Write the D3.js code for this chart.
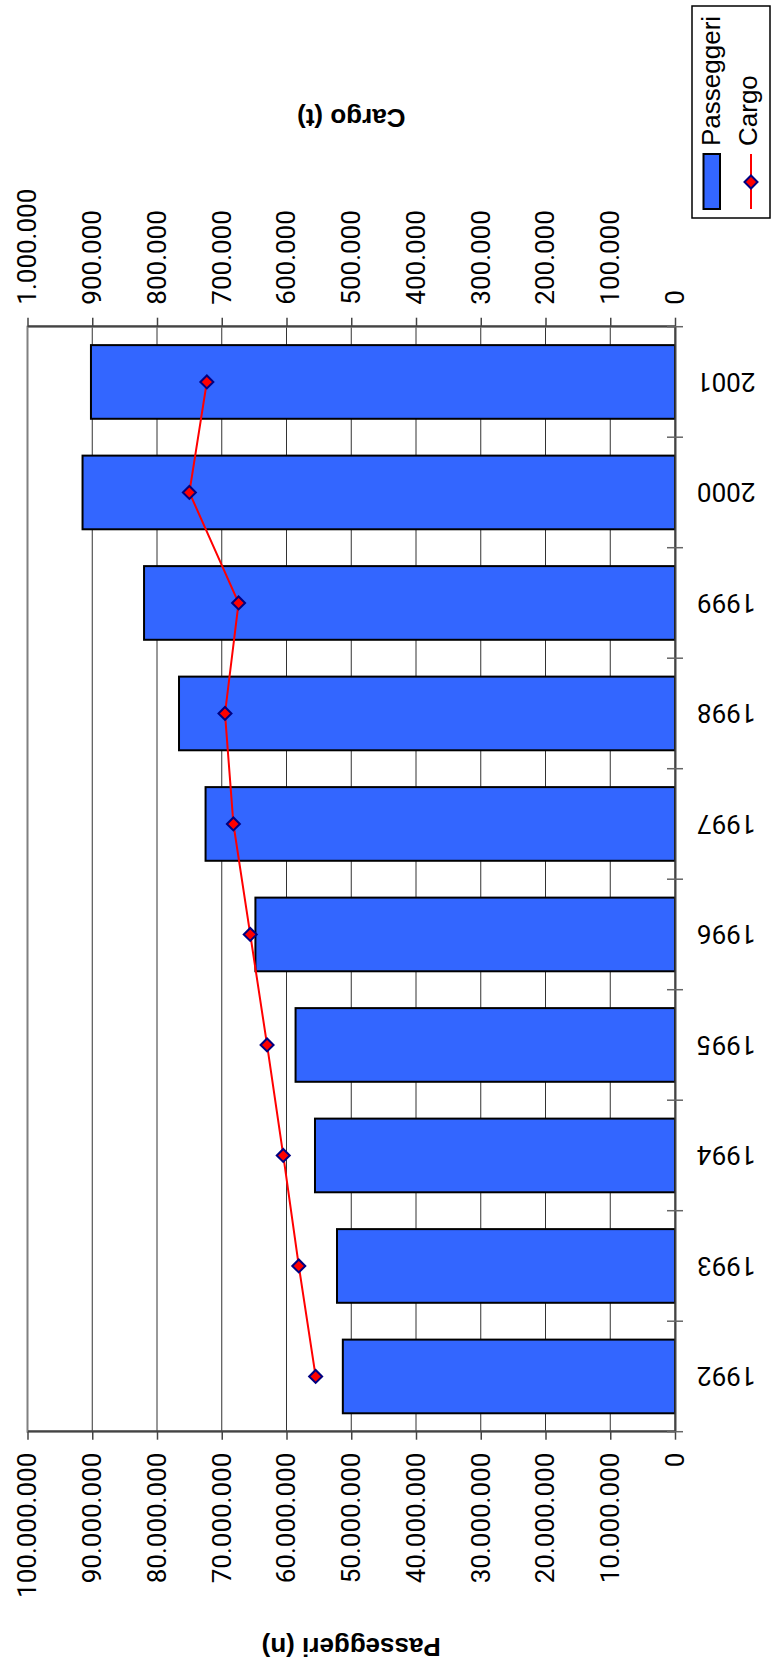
<!DOCTYPE html>
<html>
<head>
<meta charset="utf-8">
<script src="https://cdn.jsdelivr.net/npm/d3@7"></script>
<style>
    body { margin: 0; background: #fff; }
    svg { display: block; font-family: "Liberation Sans", Arial, sans-serif; }
    .axis text { font-family: Roboto, "Liberation Sans", Arial, sans-serif; }
</style>
</head>
<body>
<div id="chart"></div>
<script>
// data
const years = ["1992", "1993", "1994", "1995", "1996", "1997", "1998", "1999", "2000", "2001"];
const passeggeri = [51300000, 52200000, 55600000, 58600000, 64800000, 72500000, 76600000, 82000000, 91500000, 90200000];
const cargo = [555000, 581000, 605000, 630000, 656000, 682000, 695000, 674000, 750000, 723000];
const passeggeriTicks = [0, 10000000, 20000000, 30000000, 40000000, 50000000, 60000000, 70000000, 80000000, 90000000, 100000000];
const cargoTicks = [0, 100000, 200000, 300000, 400000, 500000, 600000, 700000, 800000, 900000, 1000000];

class RotatedComboChart {

    constructor(_parentElement) {
        this.parentElement = _parentElement;
        this.initVis();
    }

    initVis() {
        let vis = this;

        // the chart is drawn as a normal column chart, then turned 90deg counter-clockwise
        vis.pageWidth = 771;
        vis.pageHeight = 1668;
        vis.margin = { top: 27.5, right: 326.7, bottom: 96, left: 236.3 };
        vis.width = vis.pageHeight - vis.margin.left - vis.margin.right;
        vis.height = vis.pageWidth - vis.margin.top - vis.margin.bottom;

        vis.svgRoot = d3.select("#" + vis.parentElement).append("svg")
            .attr("width", vis.pageWidth)
            .attr("height", vis.pageHeight);

        vis.rot = vis.svgRoot.append("g")
            .attr("transform", "translate(0," + vis.pageHeight + ") rotate(-90)");

        vis.svg = vis.rot.append("g")
            .attr("transform", "translate(" + vis.margin.left + "," + vis.margin.top + ")");

        vis.fmt = d3.formatLocale({ decimal: ",", thousands: ".", grouping: [3], currency: ["", "€"] }).format(",");

        vis.x = d3.scaleBand()
            .domain(years)
            .range([0, vis.width])
            .paddingInner(1 / 3)
            .paddingOuter(1 / 6);

        vis.y = d3.scaleLinear()
            .domain([0, 100000000])
            .range([vis.height, 0]);

        vis.y2 = d3.scaleLinear()
            .domain([0, 1000000])
            .range([vis.height, 0]);

        vis.drawVis();
    }

    drawVis() {
        let vis = this;

        // gridlines
        vis.svg.append("g")
            .selectAll("line")
            .data(passeggeriTicks.slice(1, -1))
            .enter().append("line")
            .attr("x1", 0)
            .attr("x2", vis.width)
            .attr("y1", d => vis.y(d))
            .attr("y2", d => vis.y(d))
            .attr("stroke", "#333")
            .attr("stroke-width", 1);

        // plot border
        vis.svg.append("rect")
            .attr("width", vis.width)
            .attr("height", vis.height)
            .attr("fill", "none")
            .attr("stroke", "#808080")
            .attr("stroke-width", 2);

        // bars
        vis.svg.append("g")
            .selectAll("rect")
            .data(years)
            .enter().append("rect")
            .attr("x", d => vis.x(d))
            .attr("width", vis.x.bandwidth())
            .attr("y", (d, i) => vis.y(passeggeri[i]))
            .attr("height", (d, i) => vis.height - vis.y(passeggeri[i]))
            .attr("fill", "#3366FF")
            .attr("stroke", "#000")
            .attr("stroke-width", 2);

        // cargo line + markers
        let line = d3.line()
            .x((d, i) => vis.x(years[i]) + vis.x.bandwidth() / 2)
            .y(d => vis.y2(d));

        vis.svg.append("path")
            .datum(cargo)
            .attr("d", line)
            .attr("fill", "none")
            .attr("stroke", "#FF0000")
            .attr("stroke-width", 2);

        let diamond = "M0,-6.5L6.5,0L0,6.5L-6.5,0Z";

        vis.svg.append("g")
            .selectAll("path")
            .data(cargo)
            .enter().append("path")
            .attr("d", diamond)
            .attr("transform", (d, i) => "translate(" + (vis.x(years[i]) + vis.x.bandwidth() / 2) + "," + vis.y2(d) + ")")
            .attr("fill", "#FF0000")
            .attr("stroke", "#000080")
            .attr("stroke-width", 2);

        // left axis - Passeggeri
        let yAxis = d3.axisLeft(vis.y)
            .tickValues(passeggeriTicks)
            .tickFormat(vis.fmt)
            .tickSize(8)
            .tickSizeOuter(0)
            .tickPadding(13);

        vis.svg.append("g")
            .attr("class", "y-axis axis")
            .call(yAxis);

        // right axis - Cargo
        let y2Axis = d3.axisRight(vis.y2)
            .tickValues(cargoTicks)
            .tickFormat(vis.fmt)
            .tickSize(9)
            .tickSizeOuter(0)
            .tickPadding(13);

        vis.svg.append("g")
            .attr("class", "y2-axis axis")
            .attr("transform", "translate(" + vis.width + ",0)")
            .call(y2Axis);

        // category axis
        let xAxis = d3.axisBottom(vis.x)
            .tickSize(0)
            .tickSizeOuter(0);

        let xg = vis.svg.append("g")
            .attr("class", "x-axis axis")
            .attr("transform", "translate(0," + vis.height + ")")
            .call(xAxis);

        xg.selectAll("text")
            .attr("y", 0)
            .attr("x", -22)
            .attr("dy", "0.35em")
            .attr("transform", "rotate(-90)")
            .style("text-anchor", "end");

        // ticks between the categories
        xg.selectAll(".bound")
            .data(d3.range(years.length + 1))
            .enter().append("line")
            .attr("class", "bound")
            .attr("x1", i => vis.x.step() * i)
            .attr("x2", i => vis.x.step() * i)
            .attr("y1", -8)
            .attr("y2", 8)
            .attr("stroke", "#666")
            .attr("stroke-width", 1.5);

        vis.svg.selectAll(".axis")
            .attr("font-size", null)
            .attr("font-family", null)
            .style("font-size", "26px");
        vis.svg.selectAll(".axis text").attr("fill", "#000");
        vis.svg.selectAll(".axis .domain").attr("stroke", "#444").attr("stroke-width", 2);
        vis.svg.selectAll(".axis .tick line").attr("stroke", "#444").attr("stroke-width", 1.5);

        // axis titles
        vis.rot.append("text")
            .attr("transform", "translate(21," + (vis.margin.top + vis.height / 2) + ") rotate(-90)")
            .attr("text-anchor", "middle")
            .attr("dy", "0.35em")
            .style("font-size", "26px")
            .style("font-weight", "bold")
            .text("Passeggeri (n)");

        vis.rot.append("text")
            .attr("transform", "translate(1550," + (vis.margin.top + vis.height / 2) + ") rotate(-90)")
            .attr("text-anchor", "middle")
            .attr("dy", "0.35em")
            .style("font-size", "26px")
            .style("font-weight", "bold")
            .text("Cargo (t)");

        // legend
        let legend = vis.rot.append("g")
            .attr("transform", "translate(1450,692)");

        legend.append("rect")
            .attr("width", 212)
            .attr("height", 78)
            .attr("fill", "#fff")
            .attr("stroke", "#000")
            .attr("stroke-width", 1.5);

        legend.append("rect")
            .attr("x", 9)
            .attr("y", 11.5)
            .attr("width", 55)
            .attr("height", 16.5)
            .attr("fill", "#3366FF")
            .attr("stroke", "#000")
            .attr("stroke-width", 2);

        legend.append("line")
            .attr("x1", 9)
            .attr("x2", 64)
            .attr("y1", 59)
            .attr("y2", 59)
            .attr("stroke", "#FF0000")
            .attr("stroke-width", 2);

        legend.append("path")
            .attr("d", diamond)
            .attr("transform", "translate(36,59)")
            .attr("fill", "#FF0000")
            .attr("stroke", "#000080")
            .attr("stroke-width", 2);

        legend.append("text")
            .attr("x", 72)
            .attr("y", 27.5)
            .style("font-size", "26px")
            .text("Passeggeri");

        legend.append("text")
            .attr("x", 72)
            .attr("y", 65)
            .style("font-size", "26px")
            .text("Cargo");
    }
}

new RotatedComboChart("chart");
</script>
</body>
</html>
